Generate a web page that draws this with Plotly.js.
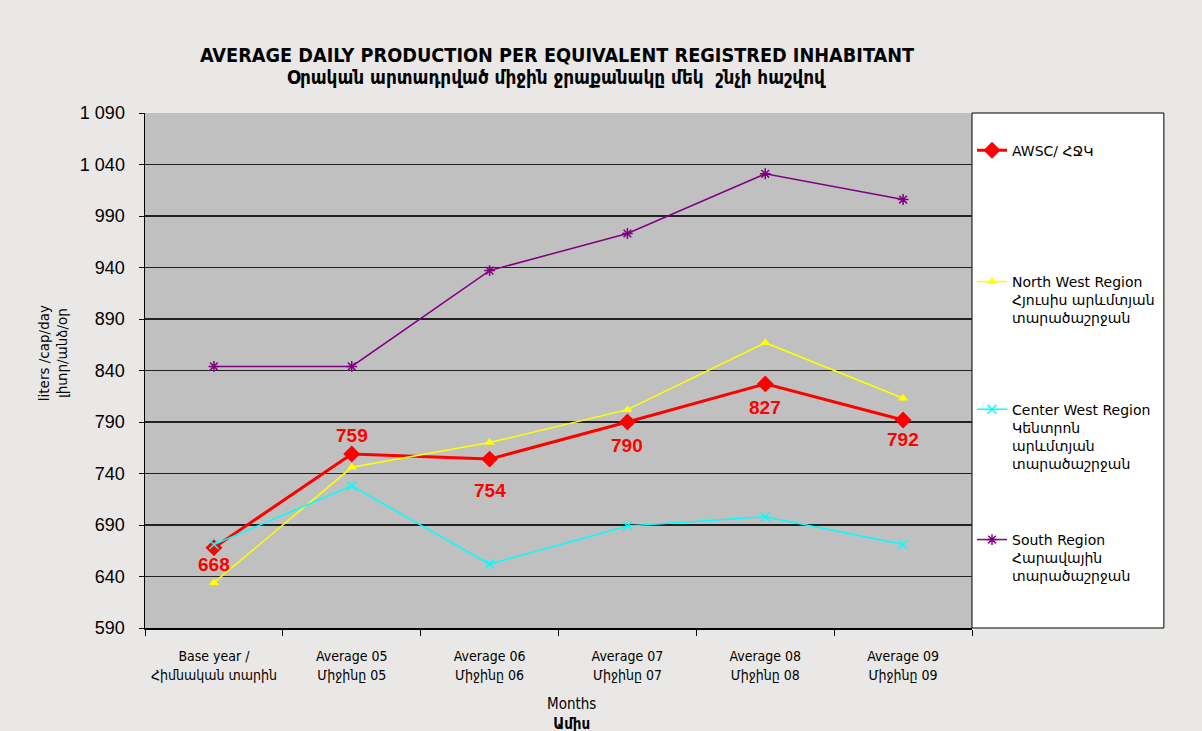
<!DOCTYPE html>
<html>
<head>
<meta charset="utf-8">
<script src="https://cdn.plot.ly/plotly-3.0.1.min.js"></script>
<style>html,body{margin:0;padding:0;background:#e9e8e6;}#chart{width:1202px;height:731px;}</style>
</head>
<body>
<div id="chart"></div>
<script>
// ---- data ----
const categories = [
  "Base year /<br>Հիմնական տարին",
  "Average 05<br>Միջինը 05",
  "Average 06<br>Միջինը 06",
  "Average 07<br>Միջինը 07",
  "Average 08<br>Միջինը 08",
  "Average 09<br>Միջինը 09"
];
const seriesNames = [
  "AWSC/ ՀՋԿ",
  "North West Region<br>Հյուսիս արևմտյան<br>տարածաշրջան",
  "Center West Region<br>Կենտրոն<br>արևմտյան<br>տարածաշրջան",
  "South Region<br>Հարավային<br>տարածաշրջան"
];
const awsc = [668, 759, 754, 790, 827, 792];
const northWest = [634, 746, 770, 802, 867, 813];
const centerWest = [671, 728, 652, 689, 698, 671];
const south = [844, 844, 937, 973, 1031, 1006];
const yTicks = [590, 640, 690, 740, 790, 840, 890, 940, 990, 1040, 1090];
const titleLines = [
  "AVERAGE DAILY PRODUCTION PER EQUIVALENT REGISTRED INHABITANT",
  "Օրական արտադրված միջին ջրաքանակը մեկ  շնչի հաշվով"
];
const yTitle = "liters /cap/day<br>լիտր/անձ/օր";
const xTitle = "Months<br><b>Ամիս</b>";

// ---- style ----
const cond = "DejaVu Sans Condensed, DejaVu Sans, sans-serif";
const sans = "Liberation Sans, DejaVu Sans, sans-serif";
const vera = "DejaVu Sans, sans-serif";
const labelShift = [-17, 18, -31, -23, -24, -20];

const traces = [
  {x: categories, y: awsc, name: seriesNames[0], type: "scatter", mode: "lines+markers",
   line: {color: "#ff0000", width: 3}, marker: {symbol: "diamond", size: 13, color: "#ff0000"},
   legend: "legend"},
  {x: categories, y: northWest, name: seriesNames[1], type: "scatter", mode: "lines+markers",
   line: {color: "#ffff00", width: 1.5}, marker: {symbol: "triangle-up", size: 9, color: "#ffff00"},
   legend: "legend2"},
  {x: categories, y: centerWest, name: seriesNames[2], type: "scatter", mode: "lines+markers",
   line: {color: "#00ffff", width: 1.5}, marker: {symbol: "x-thin-open", size: 9, color: "#00ffff", line: {width: 1.5, color: "#00ffff"}},
   legend: "legend3"},
  {x: categories, y: south, name: seriesNames[3], type: "scatter", mode: "lines+markers",
   line: {color: "#800080", width: 1.5}, marker: {symbol: "asterisk-open", size: 9, color: "#800080", line: {width: 1.5, color: "#800080"}},
   legend: "legend4"}
];

function leg(y) {
  return {x: 1.0, xanchor: "left", y: y, yanchor: "top", valign: "top",
    bgcolor: "rgba(0,0,0,0)", borderwidth: 0,
    font: {family: vera, size: 14, color: "#000"}};
}

const annotations = awsc.map((v, i) => ({
  x: categories[i], y: v, xref: "x", yref: "y", text: String(v), showarrow: false,
  yshift: labelShift[i], font: {family: sans, size: 19, color: "#ff0000", weight: "bold"}
}));
annotations.push(
  {xref: "paper", yref: "paper", x: 0.498, y: 1.1126, yanchor: "middle", showarrow: false,
   text: "<b>" + titleLines[0] + "</b>", font: {family: cond, size: 19.7, color: "#000"}},
  {xref: "paper", yref: "paper", x: 0.498, y: 1.0699, yanchor: "middle", showarrow: false,
   text: "<b>" + titleLines[1] + "</b>", font: {family: cond, size: 18.8, color: "#000"}},
  {xref: "paper", yref: "paper", x: -0.111, y: 0.534, xanchor: "center", yanchor: "middle",
   textangle: -90, showarrow: false, text: yTitle, font: {family: vera, size: 13.5, color: "#000"}},
  {xref: "paper", yref: "paper", x: 0.516, y: -0.126, xanchor: "center", yanchor: "top",
   showarrow: false, text: xTitle, font: {family: cond, size: 15, color: "#000"}}
);

const layout = {
  width: 1202, height: 731,
  paper_bgcolor: "#e9e8e6",
  plot_bgcolor: "#c0c0c0",
  separators: ". ",
  margin: {l: 145, r: 230, t: 113, b: 103},
  xaxis: {
    type: "category", tickson: "boundaries", ticks: "outside", ticklen: 6, tickcolor: "#000",
    showline: true, linecolor: "#000", linewidth: 1.5, showgrid: false,
    tickfont: {family: cond, size: 14, color: "#000"}, ticklabelstandoff: 15,
    range: [-0.5, 5.5]
  },
  yaxis: {
    range: [590, 1090], tickvals: yTicks, tickformat: ",d",
    ticks: "outside", ticklen: 5, tickcolor: "#000",
    showline: true, linecolor: "#000", linewidth: 1.5,
    showgrid: true, gridcolor: "#222222", gridwidth: 1.6, zeroline: false,
    tickfont: {family: sans, size: 18, color: "#000"}, ticklabelstandoff: 10
  },
  shapes: [{type: "rect", xref: "paper", yref: "paper", x0: 1.0, x1: 1.232, y0: 0, y1: 1,
            fillcolor: "#ffffff", line: {color: "#000", width: 1}, layer: "below"}],
  annotations: annotations,
  legend: leg(0.958),
  legend2: leg(0.703),
  legend3: leg(0.455),
  legend4: leg(0.202),
  showlegend: true
};

Plotly.newPlot("chart", traces, layout, {displayModeBar: false, staticPlot: true});
</script>
</body>
</html>
